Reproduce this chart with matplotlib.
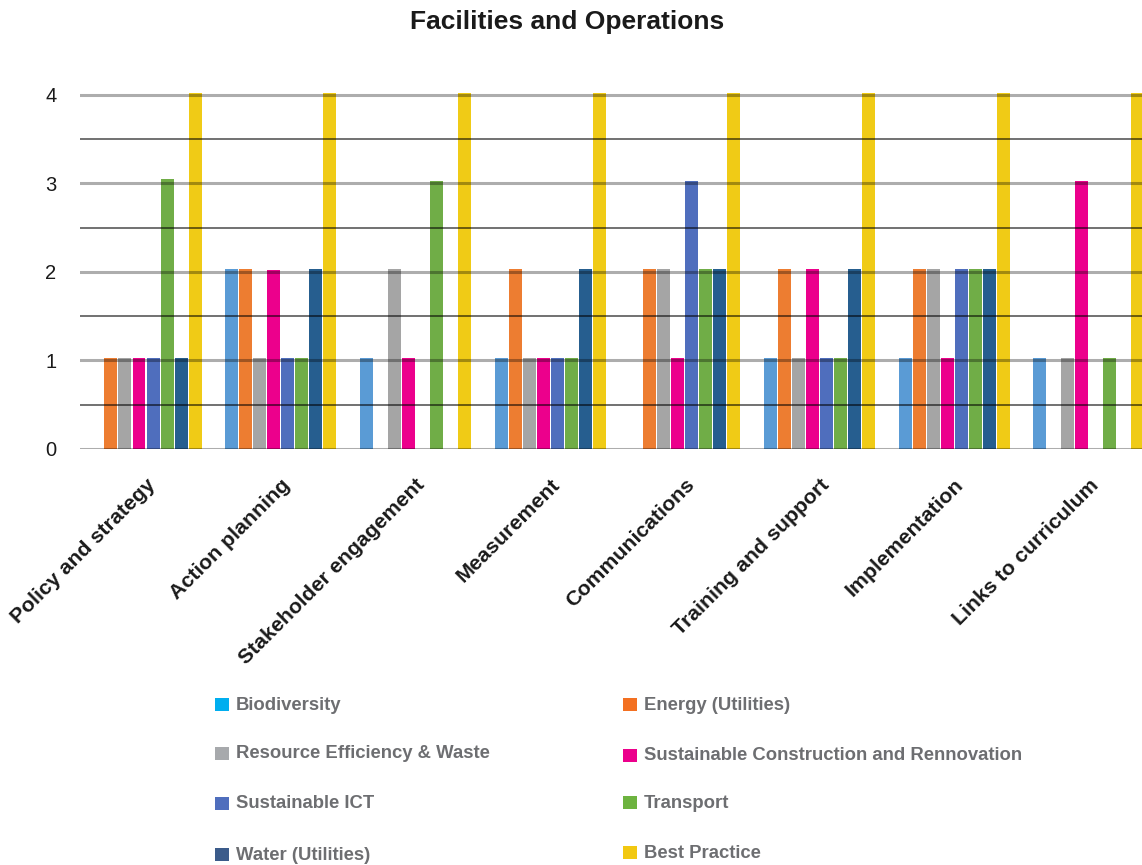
import matplotlib
matplotlib.use('Agg')
import matplotlib.pyplot as plt
from matplotlib.patches import Rectangle
from matplotlib.ticker import MultipleLocator
import numpy as np

plt.rcParams['font.family'] = ['Liberation Sans', 'DejaVu Sans']

categories = ["Policy and strategy", "Action planning", "Stakeholder engagement",
              "Measurement", "Communications", "Training and support",
              "Implementation", "Links to curriculum"]
series_names = ["Biodiversity", "Energy (Utilities)", "Resource Efficiency & Waste",
                "Sustainable Construction and Rennovation", "Sustainable ICT",
                "Transport", "Water (Utilities)", "Best Practice"]

biodiversity = [0, 2.03, 1.03, 1.03, 0, 1.03, 1.03, 1.03]
energy = [1.03, 2.03, 0, 2.03, 2.03, 2.03, 2.03, 0]
resource = [1.03, 1.03, 2.03, 1.03, 2.03, 1.03, 2.03, 1.03]
construction = [1.03, 2.02, 1.03, 1.03, 1.03, 2.03, 1.03, 3.03]
ict = [1.03, 1.03, 0, 1.03, 3.03, 1.03, 2.03, 0]
transport = [3.05, 1.03, 3.03, 1.03, 2.03, 1.03, 2.03, 1.03]
water = [1.03, 2.03, 0, 2.03, 2.03, 2.03, 2.03, 0]
best_practice = [4.02, 4.02, 4.02, 4.02, 4.02, 4.02, 4.02, 4.02]

series_values = [biodiversity, energy, resource, construction, ict, transport, water, best_practice]
bar_colors = ["#5A9BD5", "#ED7D31", "#A5A5A5", "#EC008C", "#4F6EBD", "#70AD47", "#265E8F", "#F0CB16"]
legend_colors = ["#00AEEF", "#F37021", "#A7A9AC", "#EC008C", "#4F6EBD", "#6DB33F", "#3B5B8A", "#F2C811"]
yticks = [0, 1, 2, 3, 4]

W, H = 1142, 865
fig = plt.figure(figsize=(W / 100, H / 100), dpi=100)
ax = fig.add_axes([80 / W, (H - 449) / H, 1 - 80 / W, (449 - 86) / H])

x = np.arange(len(categories))
slot = 0.104
bw = 0.0965
for i, (vals, col) in enumerate(zip(series_values, bar_colors)):
    ax.bar(x + (i - 3.5) * slot, vals, width=bw, color=col, zorder=1, linewidth=0)

ax.set_xlim(-0.49, 7.394)
ax.set_ylim(0, 4.1)
ax.set_yticks(yticks)
ax.set_yticklabels([str(t) for t in yticks], fontsize=14.5, color='#1a1a1a')
ax.yaxis.set_minor_locator(MultipleLocator(0.5))
ax.set_axisbelow(False)
ax.grid(axis='y', which='major', color='#000000', alpha=0.32, linewidth=2.2)
ax.grid(axis='y', which='minor', color='#000000', alpha=0.65, linewidth=1.2)
ax.tick_params(axis='y', which='both', length=0, pad=17)
ax.tick_params(axis='x', length=0, pad=19)
for s in ax.spines.values():
    s.set_visible(False)
for lbl in ax.get_yticklabels():
    lbl.set_va('center_baseline')

ax.set_xticks(x)
ax.set_xticklabels(categories, rotation=45, ha='right', rotation_mode='anchor',
                   fontsize=15.3, fontweight='bold', color='#1a1a1a')

fig.text(0.497, 1 - 22 / H, "Facilities and Operations", ha='center', va='center',
         fontsize=19, fontweight='bold', color='#1a1a1a')

# legend (manual layout, two columns)
legend_pos = [(215, 705), (623, 705), (215, 754), (623, 756),
              (215, 804), (623, 803), (215, 855), (623, 853)]
for name, col, (px, py) in zip(series_names, legend_colors, legend_pos):
    fig.add_artist(Rectangle((px / W, 1 - (py + 6) / H), 14 / W, 13 / H,
                             transform=fig.transFigure, color=col, linewidth=0))
    fig.text((px + 21) / W, 1 - py / H, name, ha='left', va='center',
             fontsize=13.3, fontweight='bold', color='#6d6e71')

fig.savefig('out.png', dpi=100)
